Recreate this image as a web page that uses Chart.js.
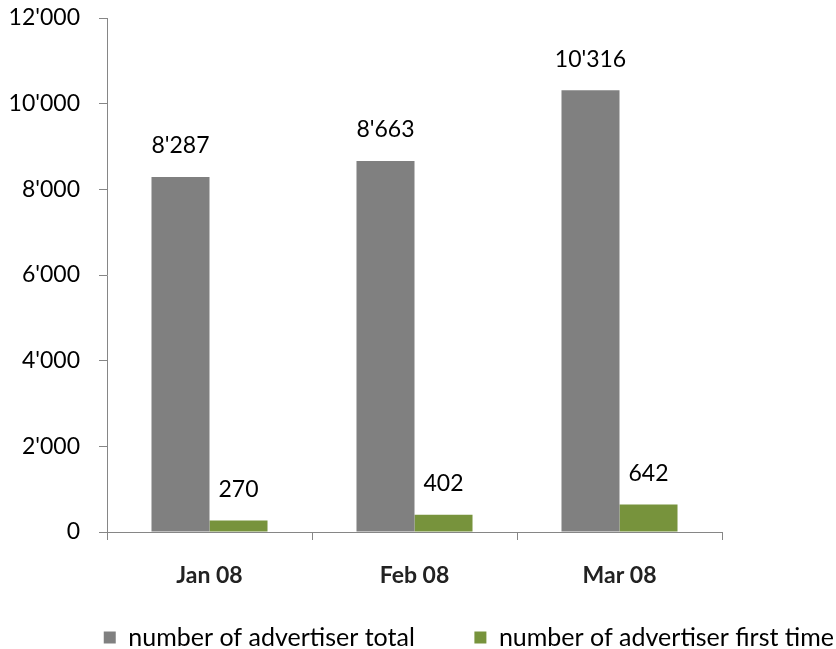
<!DOCTYPE html>
<html>
<head>
<meta charset="utf-8">
<script src="https://cdn.jsdelivr.net/npm/chart.js@4.4.1/dist/chart.umd.min.js"></script>
<style>
  html, body { margin: 0; padding: 0; background: #ffffff; }
  #wrap { position: relative; width: 836px; height: 649px; }
</style>
</head>
<body>
<div id="wrap"><canvas id="c" width="836" height="649"></canvas></div>
<script>
const categories = ["Jan 08", "Feb 08", "Mar 08"];
const totalAdvertisers = [8287, 8663, 10316];
const firstTimeAdvertisers = [270, 402, 642];
const seriesNames = ["number of advertiser total", "number of advertiser first time"];
const yTicks = { min: 0, max: 12000, step: 2000 };

const FONT = "Lato, 'Open Sans', sans-serif";
const AXIS_COLOR = "#868686";

function fmt(v) {
  return String(Math.round(v)).replace(/\B(?=(\d{3})+(?!\d))/g, "'");
}

const dataLabels = {
  id: "dataLabels",
  afterDatasetsDraw(chart) {
    const ctx = chart.ctx;
    ctx.save();
    ctx.font = "23px " + FONT;
    ctx.fillStyle = "#000000";
    ctx.textAlign = "center";
    ctx.textBaseline = "middle";
    chart.data.datasets.forEach((ds, di) => {
      const meta = chart.getDatasetMeta(di);
      meta.data.forEach((el, i) => {
        ctx.fillText(fmt(ds.data[i]), el.x, el.y - 31);
      });
    });
    ctx.restore();
  }
};

new Chart(document.getElementById("c"), {
  type: "bar",
  data: {
    labels: categories,
    datasets: [
      { label: seriesNames[0], data: totalAdvertisers, backgroundColor: "#808080", borderWidth: 0 },
      { label: seriesNames[1], data: firstTimeAdvertisers, backgroundColor: "#77933C", borderWidth: 0 }
    ]
  },
  options: {
    responsive: false,
    animation: false,
    devicePixelRatio: 1,
    layout: { padding: { top: 18, left: 0, right: 0, bottom: 0 } },
    datasets: { bar: { categoryPercentage: 0.566, barPercentage: 1.0 } },
    plugins: {
      tooltip: { enabled: false },
      legend: {
        position: "bottom",
        align: "end",
        maxHeight: 26,
        labels: {
          color: "#000000",
          font: { family: FONT, size: 25 },
          boxWidth: 12,
          boxHeight: 12,
          padding: 2,
          generateLabels(chart) {
            const items = Chart.defaults.plugins.legend.labels.generateLabels(chart);
            items.forEach((it, i) => {
              it.lineWidth = 0;
              if (i === 0) it.text = it.text + "\u00A0".repeat(9);
            });
            return items;
          }
        }
      }
    },
    scales: {
      x: {
        grid: { display: true, offset: true, drawOnChartArea: false, drawTicks: true, tickLength: 8, color: AXIS_COLOR },
        border: { display: true, color: AXIS_COLOR, width: 1 },
        ticks: { color: "#222222", font: { family: FONT, size: 23, weight: "bold" }, padding: 22, maxRotation: 0 },
        afterFit(s) { s.height = 91; }
      },
      y: {
        min: yTicks.min,
        max: yTicks.max,
        grid: { display: true, drawOnChartArea: false, drawTicks: true, tickLength: 8, color: AXIS_COLOR },
        border: { display: true, color: AXIS_COLOR, width: 1 },
        ticks: {
          stepSize: yTicks.step,
          color: "#000000",
          font: { family: FONT, size: 23 },
          padding: 19,
          callback: (v) => fmt(v)
        },
        afterFit(s) { s.width = 107; s.paddingTop = 0; s.paddingBottom = 0; }
      },
      yRight: {
        position: "right",
        display: true,
        grid: { display: false },
        border: { display: false },
        ticks: { display: false },
        afterFit(s) { s.width = 114; s.paddingTop = 0; s.paddingBottom = 0; }
      }
    }
  },
  plugins: [dataLabels]
});
</script>
</body>
</html>
